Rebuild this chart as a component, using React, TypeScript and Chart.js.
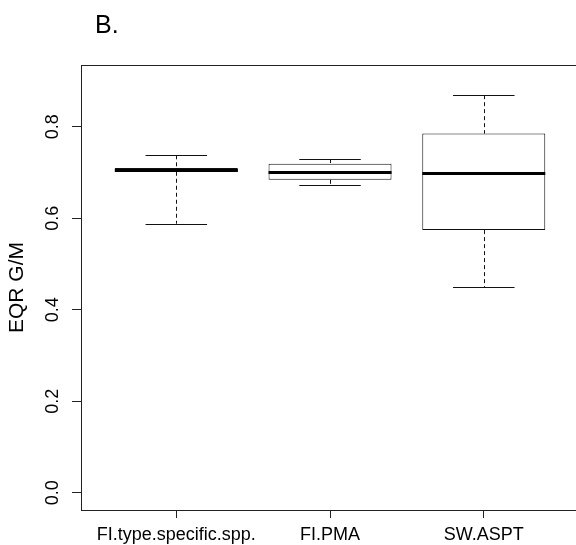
import React, { useEffect, useRef } from 'react';
import { Chart, registerables } from 'chart.js';

Chart.register(...registerables);

const categories = ['FI.type.specific.spp.', 'FI.PMA', 'SW.ASPT'];
const positions = [1, 2, 3];
const whiskerLow = [0.588, 0.6726, 0.4496];
const q1 = [0.7015, 0.684, 0.574];
const median = [0.706, 0.7017, 0.699];
const q3 = [0.71, 0.719, 0.785];
const whiskerHigh = [0.7375, 0.7294, 0.869];
const yTicks = [0, 0.2, 0.4, 0.6, 0.8];
const panelTitle = 'B.';
const yLabel = 'EQR G/M';

const FONT = '"Liberation Sans", Arial, sans-serif';

const boxPlugin = {
  id: 'boxExtras',
  beforeDatasetsDraw(chart: any) {
    const { ctx } = chart;
    const x = chart.scales.x;
    const y = chart.scales.y;
    ctx.save();
    ctx.strokeStyle = '#111';
    ctx.lineWidth = 1;
    const line = (x1: number, y1: number, x2: number, y2: number) => {
      ctx.beginPath();
      ctx.moveTo(x1, y1);
      ctx.lineTo(x2, y2);
      ctx.stroke();
    };
    positions.forEach((p, i) => {
      const cx = Math.round(x.getPixelForValue(p)) + 0.5;
      ctx.setLineDash([4, 3]);
      line(cx, y.getPixelForValue(whiskerHigh[i]), cx, y.getPixelForValue(q3[i]));
      line(cx, y.getPixelForValue(q1[i]), cx, y.getPixelForValue(whiskerLow[i]));
      ctx.setLineDash([]);
      const l = x.getPixelForValue(p - 0.2);
      const r = x.getPixelForValue(p + 0.2);
      const yh = Math.round(y.getPixelForValue(whiskerHigh[i])) + 0.5;
      const yl = Math.round(y.getPixelForValue(whiskerLow[i])) + 0.5;
      line(l, yh, r, yh);
      line(l, yl, r, yl);
    });
    ctx.restore();
  },
  afterDatasetsDraw(chart: any) {
    const { ctx } = chart;
    const x = chart.scales.x;
    const y = chart.scales.y;
    ctx.save();
    ctx.strokeStyle = '#000';
    ctx.lineWidth = 3;
    positions.forEach((p, i) => {
      const ym = Math.round(y.getPixelForValue(median[i])) + 0.5;
      ctx.beginPath();
      ctx.moveTo(x.getPixelForValue(p - 0.4), ym);
      ctx.lineTo(x.getPixelForValue(p + 0.4), ym);
      ctx.stroke();
    });
    ctx.restore();
  },
  afterDraw(chart: any) {
    const { ctx, chartArea } = chart;
    ctx.save();
    ctx.strokeStyle = '#222';
    ctx.lineWidth = 1;
    ctx.beginPath();
    ctx.moveTo(chartArea.left, Math.round(chartArea.top) + 0.5);
    ctx.lineTo(chartArea.right, Math.round(chartArea.top) + 0.5);
    ctx.stroke();
    ctx.fillStyle = '#000';
    ctx.font = '25px ' + FONT;
    ctx.textBaseline = 'alphabetic';
    ctx.textAlign = 'left';
    ctx.fillText(panelTitle, 95, 33);
    ctx.restore();
  },
};

export default function App() {
  const ref = useRef<HTMLCanvasElement>(null);
  useEffect(() => {
    document.body.style.margin = '0';
    const chart = new Chart(ref.current as HTMLCanvasElement, {
      type: 'bar',
      data: {
        datasets: [
          {
            data: positions.map((p, i) => ({ x: p, y: [q1[i], q3[i]] })) as any,
            backgroundColor: '#fff',
            borderColor: '#111',
            borderWidth: 1,
            borderSkipped: false,
            categoryPercentage: 1,
            barPercentage: 0.8,
          } as any,
        ],
      },
      options: {
        responsive: false,
        animation: false,
        devicePixelRatio: 1,
        layout: { padding: { top: 65, left: 0, right: 0, bottom: 0 } },
        plugins: {
          legend: { display: false },
          tooltip: { enabled: false },
          title: { display: false },
        },
        scales: {
          x: {
            type: 'linear',
            min: 0.38,
            max: 3.6,
            offset: false,
            afterBuildTicks: (s: any) => {
              s.ticks = positions.map((v) => ({ value: v }));
            },
            afterFit: (s: any) => {
              s.height = 35;
            },
            ticks: {
              callback: (_v: any, idx: number) => categories[idx],
              color: '#000',
              font: { family: FONT, size: 18 },
              padding: 6,
              maxRotation: 0,
              minRotation: 0,
              autoSkip: false,
            },
            grid: { offset: false, drawOnChartArea: false, drawTicks: true, tickLength: 8, color: '#222' },
            border: { display: true, color: '#222', width: 1 },
          },
          y: {
            type: 'linear',
            min: -0.0378,
            max: 0.9349,
            afterBuildTicks: (s: any) => {
              s.ticks = yTicks.map((v) => ({ value: v }));
            },
            afterFit: (s: any) => {
              s.width = 81;
            },
            ticks: {
              callback: (v: any) => Number(v).toFixed(1),
              color: '#000',
              font: { family: FONT, size: 18 },
              padding: 6,
              minRotation: 90,
              maxRotation: 90,
              crossAlign: 'center',
              autoSkip: false,
            },
            grid: { drawOnChartArea: false, drawTicks: true, tickLength: 9, color: '#222' },
            border: { display: true, color: '#222', width: 1 },
            title: {
              display: true,
              text: yLabel,
              color: '#000',
              font: { family: FONT, size: 21 },
              padding: { top: 5, bottom: 0 },
            },
          },
        },
      } as any,
      plugins: [boxPlugin],
    });
    return () => chart.destroy();
  }, []);
  return (
    <canvas
      ref={ref}
      width={576}
      height={545}
      style={{ position: 'absolute', left: 0, top: 0, width: 576, height: 545 }}
    />
  );
}
